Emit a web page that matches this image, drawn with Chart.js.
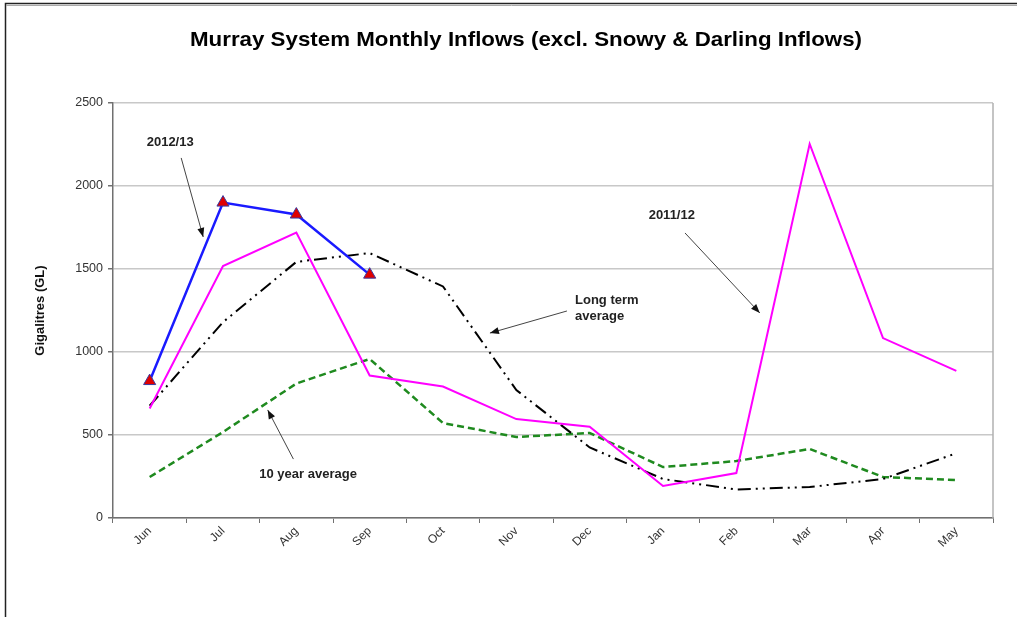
<!DOCTYPE html>
<html><head><meta charset="utf-8">
<script src="https://cdn.jsdelivr.net/npm/chart.js@4.4.0/dist/chart.umd.min.js"></script>
<style>html,body{margin:0;padding:0;background:#fff;overflow:hidden}</style>
</head><body>
<canvas id="c" width="1017" height="617"></canvas>
<script>
const months = ['Jun','Jul','Aug','Sep','Oct','Nov','Dec','Jan','Feb','Mar','Apr','May'];
const inflow2012_13 = [825, 1900, 1828, 1466, null, null, null, null, null, null, null, null];
const inflow2011_12 = [660, 1518, 1720, 858, 792, 596, 550, 193, 271, 2253, 1084, 886];
const longTermAvg   = [676, 1180, 1543, 1596, 1395, 771, 425, 235, 172, 187, 235, 390];
const tenYearAvg    = [247, 518, 810, 958, 572, 488, 512, 307, 343, 416, 247, 229];
const yTicks = [0, 500, 1000, 1500, 2000, 2500];

// annotation labels, positioned in data space (category index, GL)
const notes = [
  {lines:['2012/13'], at:[0.28, 2265], align:'center', from:[0.43, 2169], to:[0.73, 1693]},
  {lines:['2011/12'], at:[7.12, 1825], align:'center', from:[7.30, 1717], to:[8.32, 1235]},
  {lines:['Long term','average'], at:[5.80, 1265], align:'left', from:[5.69, 1247], to:[4.64, 1114]},
  {lines:['10 year average'], at:[2.16, 265], align:'center', from:[1.96, 355], to:[1.61, 651]}
];

const decor = {
  id:'decor',
  beforeDraw(chart){
    const ctx = chart.ctx;
    ctx.save();
    ctx.fillStyle = '#fff';
    ctx.fillRect(0,0,chart.width,chart.height);
    ctx.strokeStyle = '#222';
    ctx.lineWidth = 1.5;
    ctx.beginPath();
    ctx.moveTo(5.5, chart.height); ctx.lineTo(5.5, 3.5); ctx.lineTo(chart.width, 3.5);
    ctx.stroke();
    ctx.strokeStyle = '#aaa'; ctx.lineWidth = 1;
    ctx.beginPath(); ctx.moveTo(6, 5.5); ctx.lineTo(chart.width, 5.5); ctx.stroke();
    ctx.fillStyle = '#000';
    ctx.font = 'bold 21px "Liberation Sans", Arial, sans-serif';
    ctx.textAlign = 'center'; ctx.textBaseline = 'middle';
    const t = 'Murray System Monthly Inflows (excl. Snowy & Darling Inflows)';
    const w = ctx.measureText(t).width;
    ctx.translate(526, 40);
    ctx.scale(672 / w, 1);
    ctx.fillText(t, 0, 0);
    ctx.restore();
  },
  afterDatasetsDraw(chart){
    const ctx = chart.ctx, xs = chart.scales.x, ys = chart.scales.y, a = chart.chartArea;
    ctx.save();
    ctx.strokeStyle = '#b0b0b0'; ctx.lineWidth = 1.5;
    ctx.beginPath(); ctx.moveTo(a.right, a.top); ctx.lineTo(a.right, a.bottom); ctx.stroke();
    ctx.font = 'bold 13px "Liberation Sans", Arial, sans-serif';
    ctx.fillStyle = '#222'; ctx.textBaseline = 'middle';
    notes.forEach(n => {
      const tx = xs.getPixelForValue(n.at[0]), ty = ys.getPixelForValue(n.at[1]);
      ctx.textAlign = n.align;
      n.lines.forEach((l,i) => ctx.fillText(l, tx, ty - (n.lines.length-1)*8 + i*16));
      const x1 = xs.getPixelForValue(n.from[0]), y1 = ys.getPixelForValue(n.from[1]);
      const x2 = xs.getPixelForValue(n.to[0]), y2 = ys.getPixelForValue(n.to[1]);
      ctx.strokeStyle = '#444'; ctx.lineWidth = 1;
      ctx.beginPath(); ctx.moveTo(x1,y1); ctx.lineTo(x2,y2); ctx.stroke();
      const ang = Math.atan2(y2-y1, x2-x1), L = 9, W = 3.5;
      ctx.fillStyle = '#111';
      ctx.beginPath();
      ctx.moveTo(x2,y2);
      ctx.lineTo(x2 - L*Math.cos(ang) + W*Math.sin(ang), y2 - L*Math.sin(ang) - W*Math.cos(ang));
      ctx.lineTo(x2 - L*Math.cos(ang) - W*Math.sin(ang), y2 - L*Math.sin(ang) + W*Math.cos(ang));
      ctx.closePath(); ctx.fill();
      ctx.fillStyle = '#222';
    });
    ctx.restore();
  }
};

new Chart(document.getElementById('c'), {
  type:'line',
  data:{
    labels: months,
    datasets:[
      {label:'2012/13', data:inflow2012_13, borderColor:'#1a1aff', borderWidth:2.5,
       pointStyle:'triangle', pointRadius:7, pointBackgroundColor:'#e00000', pointBorderColor:'#3a3aa0', pointBorderWidth:1},
      {label:'2011/12', data:inflow2011_12, borderColor:'#ff00ff', borderWidth:2, pointRadius:0},
      {label:'Long term average', data:longTermAvg, borderColor:'#000', borderWidth:2, borderDash:[13,5,2,5,2,5], pointRadius:0},
      {label:'10 year average', data:tenYearAvg, borderColor:'#1f8a1f', borderWidth:2.5, borderDash:[7,4], pointRadius:0}
    ]
  },
  options:{
    responsive:false, animation:false, devicePixelRatio:1,
    layout:{padding:{left:33, top:103, right:24, bottom:0}},
    elements:{line:{tension:0, fill:false}},
    plugins:{legend:{display:false}, tooltip:{enabled:false}, title:{display:false}},
    scales:{
      x:{
        type:'category', offset:true,
        grid:{offset:true, drawOnChartArea:false, drawTicks:true, tickLength:5, tickColor:'#707070', lineWidth:1},
        border:{color:'#707070', width:1.5},
        ticks:{maxRotation:45, minRotation:45, padding:1, color:'#333', font:{size:12, family:'"Liberation Sans", Arial, sans-serif'}},
        afterFit(s){ s.height = 99; }
      },
      y:{
        min:0, max:2500,
        afterBuildTicks(s){ s.ticks = yTicks.map(v => ({value:v})); },
        grid:{color:'#c8c8c8', lineWidth:1.5, drawTicks:true, tickLength:5, tickColor:'#707070'},
        border:{color:'#707070', width:1.5},
        ticks:{padding:5, color:'#333', callback:(v)=>String(v), font:{size:12.5, family:'"Liberation Sans", Arial, sans-serif'}},
        title:{display:true, text:'Gigalitres (GL)', padding:{top:0,bottom:0}, color:'#111',
               font:{size:13, weight:'bold', family:'"Liberation Sans", Arial, sans-serif'}},
        afterFit(s){ s.width = 80; }
      }
    }
  },
  plugins:[decor]
});
</script>
</body></html>
